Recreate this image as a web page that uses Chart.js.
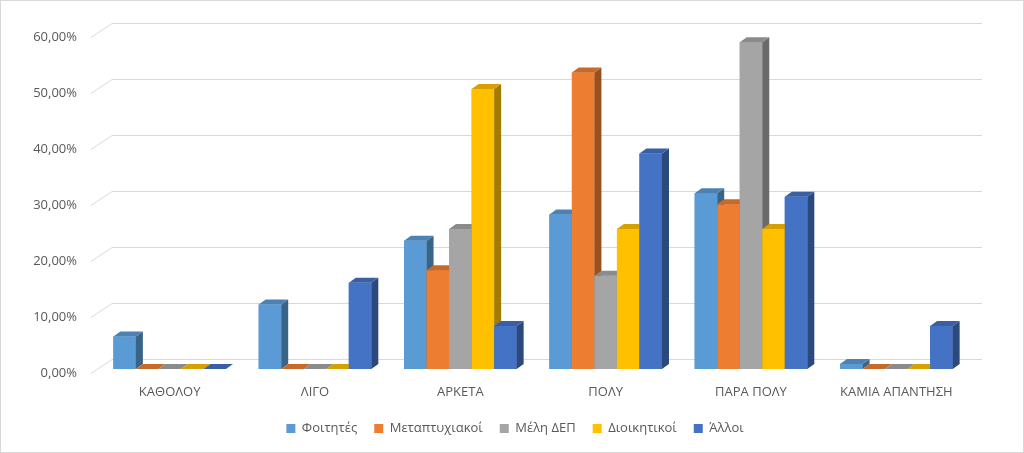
<!DOCTYPE html>
<html>
<head>
<meta charset="utf-8">
<script src="https://cdn.jsdelivr.net/npm/chart.js@4.4.1/dist/chart.umd.min.js"></script>
<style>
  html, body { margin: 0; padding: 0; background: #ffffff; }
  #wrap { width: 1024px; height: 453px; position: relative; }
</style>
</head>
<body>
<div id="wrap"><canvas id="c" width="1024" height="453"></canvas></div>
<script>
const categories = ['ΚΑΘΟΛΟΥ', 'ΛΙΓΟ', 'ΑΡΚΕΤΑ', 'ΠΟΛΥ', 'ΠΑΡΑ ΠΟΛΥ', 'ΚΑΜΙΑ ΑΠΑΝΤΗΣΗ'];
const seriesNames = ['Φοιτητές', 'Μεταπτυχιακοί', 'Μέλη ΔΕΠ', 'Διοικητικοί', 'Άλλοι'];
const foititesValues = [0.058, 0.115, 0.229, 0.276, 0.314, 0.009];
const metaptyxiakoiValues = [0, 0, 0.1765, 0.5294, 0.2941, 0];
const melhDepValues = [0, 0, 0.25, 0.1667, 0.5833, 0];
const dioikitikoiValues = [0, 0, 0.50, 0.25, 0.25, 0];
const alloiValues = [0, 0.1538, 0.0769, 0.3846, 0.3077, 0.0769];
const yTickValues = [0, 0.1, 0.2, 0.3, 0.4, 0.5, 0.6];
const seriesColors = ['#5B9BD5', '#ED7D31', '#A5A5A5', '#FFC000', '#4472C4'];

const FONT = '"Open Sans", "Noto Sans", sans-serif';
const DEPTH_X = 7, DEPTH_Y = 5;

function shade(hex, f) {
  const n = parseInt(hex.slice(1), 16);
  const r = Math.round(((n >> 16) & 255) * f);
  const g = Math.round(((n >> 8) & 255) * f);
  const b = Math.round((n & 255) * f);
  return 'rgb(' + r + ',' + g + ',' + b + ')';
}

const allValues = [foititesValues, metaptyxiakoiValues, melhDepValues, dioikitikoiValues, alloiValues];

const datasets = allValues.map((vals, i) => ({
  label: seriesNames[i],
  data: vals,
  backgroundColor: seriesColors[i],
  borderWidth: 0,
  categoryPercentage: 0.775,
  barPercentage: 1.0
}));

const backgroundPlugin = {
  id: 'bg',
  beforeDraw(chart) {
    const ctx = chart.ctx;
    ctx.save();
    ctx.fillStyle = '#ffffff';
    ctx.fillRect(0, 0, chart.width, chart.height);
    ctx.restore();
  },
  afterDraw(chart) {
    const ctx = chart.ctx;
    ctx.save();
    ctx.strokeStyle = '#D9D9D9';
    ctx.lineWidth = 1;
    ctx.strokeRect(0.5, 0.5, chart.width - 1, chart.height - 1);
    ctx.restore();
  }
};

const wallGridPlugin = {
  id: 'wallGrid',
  beforeDatasetsDraw(chart) {
    const ctx = chart.ctx;
    const y = chart.scales.y;
    const area = chart.chartArea;
    ctx.save();
    ctx.strokeStyle = '#D9D9D9';
    ctx.lineWidth = 1;
    yTickValues.forEach(v => {
      const py = Math.round(y.getPixelForValue(v));
      const backY = py - 10 + 0.5;
      ctx.beginPath();
      ctx.moveTo(area.left - 6, py + 4.5);
      ctx.lineTo(area.left + 15, backY);
      ctx.lineTo(area.right + 13, backY);
      ctx.stroke();
    });
    ctx.restore();
  }
};

// Redraw each bar (front face from the library's own element geometry)
// together with its side and top faces, series by series, so that each
// next bar's front covers the previous bar's side face.
const bars3dPlugin = {
  id: 'bars3d',
  afterDatasetsDraw(chart) {
    const ctx = chart.ctx;
    ctx.save();
    chart.data.datasets.forEach((ds, di) => {
      const meta = chart.getDatasetMeta(di);
      if (meta.hidden) return;
      const front = ds.backgroundColor;
      const top = shade(front, 0.84);
      const side = shade(front, 0.64);
      meta.data.forEach(el => {
        const p = el.getProps(['x', 'y', 'base', 'width'], true);
        const l = p.x - p.width / 2, r = p.x + p.width / 2;
        const t = Math.min(p.y, p.base), b = Math.max(p.y, p.base);
        ctx.fillStyle = front;
        ctx.fillRect(l, t, r - l, b - t);
        ctx.fillStyle = side;
        ctx.beginPath();
        ctx.moveTo(r, t);
        ctx.lineTo(r + DEPTH_X, t - DEPTH_Y);
        ctx.lineTo(r + DEPTH_X, b - DEPTH_Y);
        ctx.lineTo(r, b);
        ctx.closePath();
        ctx.fill();
        ctx.fillStyle = top;
        ctx.beginPath();
        ctx.moveTo(l, t);
        ctx.lineTo(l + DEPTH_X, t - DEPTH_Y);
        ctx.lineTo(r + DEPTH_X, t - DEPTH_Y);
        ctx.lineTo(r, t);
        ctx.closePath();
        ctx.fill();
      });
    });
    ctx.restore();
  }
};

new Chart(document.getElementById('c'), {
  type: 'bar',
  data: { labels: categories, datasets: datasets },
  plugins: [backgroundPlugin, wallGridPlugin, bars3dPlugin],
  options: {
    responsive: false,
    animation: false,
    layout: { padding: { left: 10, right: 4, top: 33, bottom: 8 } },
    plugins: {
      tooltip: { enabled: false },
      legend: {
        position: 'bottom',
        labels: {
          boxWidth: 9,
          boxHeight: 9,
          padding: 17,
          color: '#595959',
          font: { family: FONT, size: 13 }
        }
      }
    },
    scales: {
      x: {
        grid: { display: false, drawTicks: false },
        border: { display: false },
        ticks: {
          color: '#595959',
          padding: 15,
          maxRotation: 0,
          autoSkip: false,
          font: { family: FONT, size: 13 }
        },
        afterFit(scale) { scale.height = 36; }
      },
      y: {
        min: 0,
        max: 0.6,
        grid: { display: false, drawTicks: false },
        border: { display: false },
        afterBuildTicks(scale) { scale.ticks = yTickValues.map(v => ({ value: v })); },
        ticks: {
          color: '#595959',
          padding: 20,
          labelOffset: 4,
          font: { family: FONT, size: 13 },
          callback: v => (v * 100).toFixed(2).replace('.', ',') + '%'
        },
        afterFit(scale) { scale.width = 87; }
      },
      yRight: {
        type: 'linear',
        position: 'right',
        min: 0,
        max: 0.6,
        grid: { display: false, drawTicks: false },
        border: { display: false },
        ticks: { display: false },
        afterFit(scale) { scale.width = 51; }
      }
    }
  }
});
</script>
</body>
</html>
